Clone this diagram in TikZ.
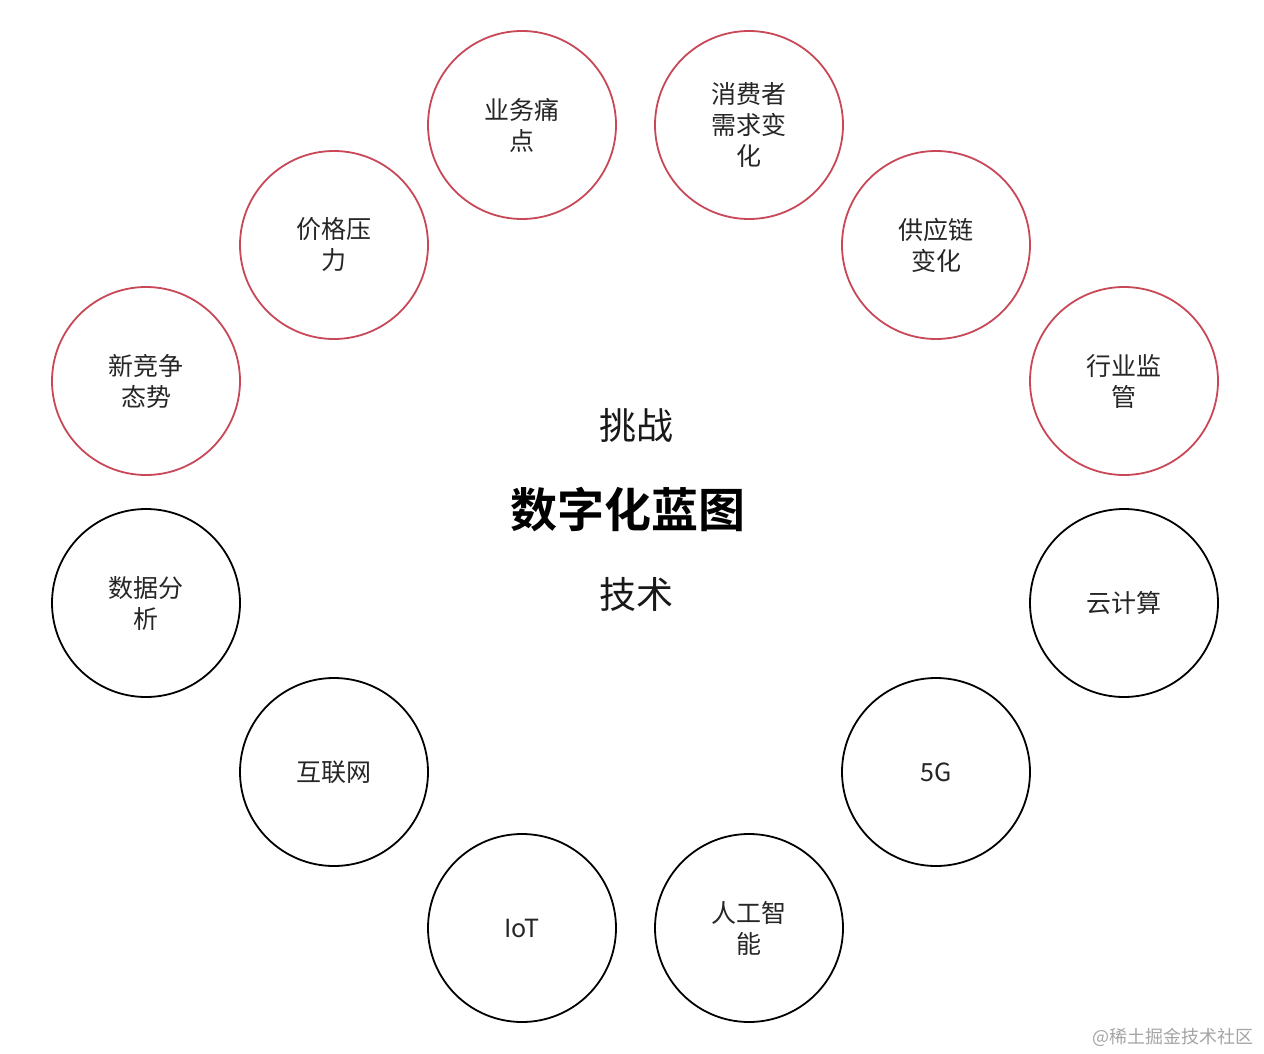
\documentclass[tikz,border=0pt]{standalone}
\usepackage{fontspec}
\newfontfamily\cjk{Noto Sans CJK SC}
\newfontfamily\cjkbold{Noto Sans CJK SC Bold}
\definecolor{chred}{RGB}{200,72,88}
\definecolor{wm}{RGB}{165,165,165}
\begin{document}
\begin{tikzpicture}[x=1pt,y=-1pt,
  circ/.style={circle,minimum size=188pt,inner sep=0pt,line width=1.8pt,align=center,
    font=\cjk\fontsize{25}{31}\selectfont,text=black!85},
  chal/.style={circ,draw=chred},
  tech/.style={circ,draw=black},
  mid/.style={font=\cjk\fontsize{37}{42}\selectfont,text=black!90}]
\useasboundingbox[fill=white] (0,0) rectangle (1264,1054);
\node[chal] (c1) at (522,125) {业务痛\\点};
\node[chal] (c2) at (749,125) {消费者\\需求变\\化};
\node[chal] (c3) at (334,245) {价格压\\力};
\node[chal] (c4) at (936,245) {供应链\\变化};
\node[chal] (c5) at (146,381) {新竞争\\态势};
\node[chal] (c6) at (1124,381) {行业监\\管};
\node[tech] (t1) at (146,603) {数据分\\析};
\node[tech] (t2) at (1124,603) {云计算};
\node[tech] (t3) at (334,772) {互联网};
\node[tech] (t4) at (936,772) {5G};
\node[tech] (t5) at (522,928) {IoT};
\node[tech] (t6) at (749,928) {人工智\\能};
\node[mid] (challenge) at (636,425) {挑战};
\node[font=\cjkbold\fontsize{47}{52}\selectfont] (title) at (628,510) {数字化蓝图};
\node[mid] (tech) at (636,594) {技术};
\node[font=\cjk\fontsize{18}{20}\selectfont,text=wm,anchor=east] (wmk) at (1257,1037) {@稀土掘金技术社区};
\end{tikzpicture}
\end{document}
